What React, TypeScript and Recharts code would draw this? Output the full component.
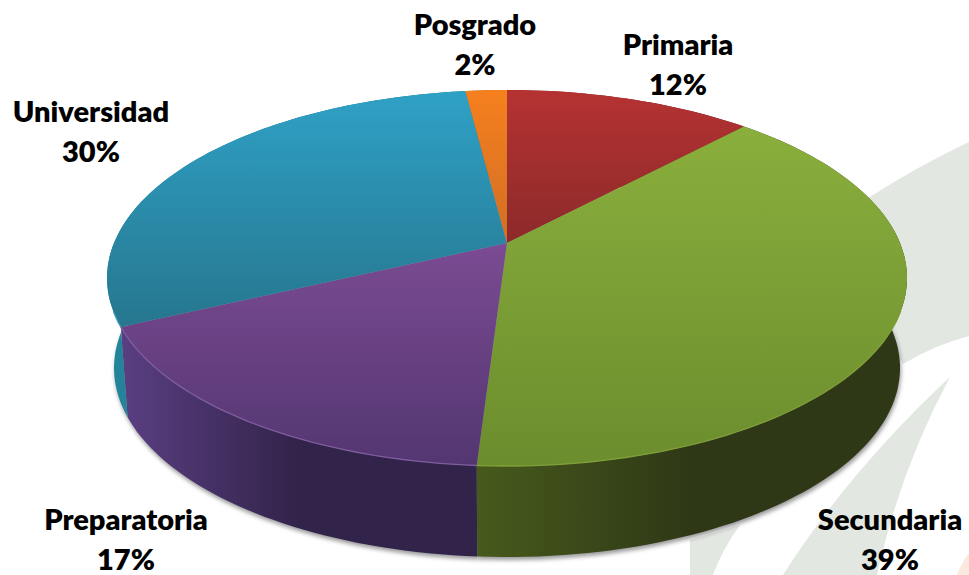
import { PieChart, Pie } from 'recharts'

const levels = ['Primaria', 'Secundaria', 'Preparatoria', 'Universidad', 'Posgrado']
const shares = [12, 39, 17, 30, 2]

const data = levels.map((name, i) => ({ name, value: shares[i] }))

const WIDTH = 969
const HEIGHT = 575
const FONT = 'Lato, "Open Sans", sans-serif'

// top face and base are ellipses, the apex sits above the centre because of the perspective
const TOP = { cx: 507, cy: 278, rx: 400, ry: 188 }
const BASE = { cx: 507, cy: 368, rx: 393, ry: 189 }
const TILT = -0.186

const topColors: Record<string, [string, string]> = {
  Primaria: ['#b63232', '#8c2a2a'],
  Secundaria: ['#8aaf3c', '#6b8d2e'],
  Preparatoria: ['#7b4b93', '#533671'],
  Universidad: ['#2fa1c6', '#26768e'],
  Posgrado: ['#f6801e', '#d26e24'],
}
const wallColors: Record<string, [string, string]> = {
  Primaria: ['#6e2020', '#6e2020'],
  Secundaria: ['#475a1c', '#2e3816'],
  Preparatoria: ['#5a3f82', '#32234a'],
  Universidad: ['#23859c', '#1b7288'],
  Posgrado: ['#a85a18', '#a85a18'],
}
const rimColors: Record<string, string> = {
  Primaria: '#c05050',
  Secundaria: '#7f9f38',
  Preparatoria: '#7f5c9e',
  Universidad: '#3a9fbc',
  Posgrado: '#f09040',
}

// x centre and baseline of the first line
const labelSpots: Record<string, [number, number]> = {
  Primaria: [678, 55],
  Secundaria: [890, 530],
  Preparatoria: [126, 530],
  Universidad: [91, 122],
  Posgrado: [475, 35],
}

type Ellipse = typeof TOP

function project(angle: number, e: Ellipse): [number, number] {
  const rad = (angle * Math.PI) / 180
  const u = Math.cos(rad)
  const v = -Math.sin(rad)
  const d = 1 + TILT * v
  const k = Math.sqrt(1 - TILT * TILT)
  return [e.cx + (e.rx * u * k) / d, e.cy + (e.ry * (v + TILT)) / d]
}

function rim(start: number, end: number, e: Ellipse) {
  const pts: [number, number][] = []
  const steps = Math.max(6, Math.ceil(Math.abs(end - start) / 1.5))
  for (let i = 0; i <= steps; i++) {
    pts.push(project(start + ((end - start) * i) / steps, e))
  }
  return pts
}

const toPath = (pts: [number, number][]) =>
  pts.map((p, i) => `${i ? 'L' : 'M'}${p[0].toFixed(1)},${p[1].toFixed(1)}`).join(' ')

function ShadowSlice(props: any) {
  const pts = rim(props.startAngle, props.endAngle, BASE).map(
    (p) => [p[0] + 1, p[1] + 3] as [number, number],
  )
  return (
    <path
      d={`${toPath(pts)} L${BASE.cx},${BASE.cy} Z`}
      fill="#77777a"
      fillOpacity={0.75}
      style={{ filter: 'blur(2px)' }}
    />
  )
}

function WallSlice(props: any) {
  const top = rim(props.startAngle, props.endAngle, TOP)
  const base = rim(props.startAngle, props.endAngle, BASE).reverse()
  return <path d={`${toPath([...top, ...base])} Z`} fill={`url(#wall-${props.index})`} />
}

function TopSlice(props: any) {
  const arc = rim(props.startAngle, props.endAngle, TOP)
  // where the disc's centre lands
  const apex: [number, number] = [TOP.cx, TOP.cy + TOP.ry * TILT]
  const front = arc.filter((p) => p[1] > TOP.cy + 30)
  return (
    <g>
      <path d={`${toPath([apex, ...arc])} Z`} fill={`url(#top-${props.index})`} />
      {front.length > 1 && (
        <path d={toPath(front)} fill="none" stroke={rimColors[props.name]} strokeWidth={1.3} />
      )}
    </g>
  )
}

function SliceLabel(props: any) {
  const [x, y] = labelSpots[props.name]
  return (
    <text
      x={x}
      textAnchor="middle"
      fontFamily={FONT}
      fontWeight={800}
      fontSize={29}
      fill="#000"
    >
      <tspan x={x} y={y}>{props.name}</tspan>
      <tspan x={x} y={y + 40}>{`${props.value}%`}</tspan>
    </text>
  )
}

export default function App() {
  return (
    <div style={{ position: 'absolute', left: 0, top: 0, width: WIDTH, height: HEIGHT, background: '#fff' }}>
      <svg width={WIDTH} height={HEIGHT} style={{ position: 'absolute', left: 0, top: 0 }}>
        <path d="M868,198 Q920,165 969,142 L969,336 Q935,345 903,364 L860,300 Z" fill="#e2e7e1" />
        <path d="M783,575 Q850,470 950,377 Q900,470 877,575 Z" fill="#e2e7e1" />
        <path d="M690,575 L713,575 Q722,550 740,525 L690,540 Z" fill="#e2e7e1" />
        <path d="M957,575 Q962,562 969,553 L969,575 Z" fill="#fbe9dd" />
      </svg>
      <div style={{ position: 'absolute', left: 0, top: 0 }}>
        <PieChart width={WIDTH} height={HEIGHT} margin={{ top: 0, right: 0, bottom: 0, left: 0 }}>
          <defs>
            {levels.map((name, i) => (
              <linearGradient key={name} id={`top-${i}`} x1="0" y1="0" x2="0" y2="1">
                <stop offset="0" stopColor={topColors[name][0]} />
                <stop offset="1" stopColor={topColors[name][1]} />
              </linearGradient>
            ))}
            {levels.map((name, i) => (
              <linearGradient key={name} id={`wall-${i}`} x1="0" y1="0" x2="1" y2="0">
                <stop offset="0" stopColor={wallColors[name][0]} />
                <stop offset="0.5" stopColor={wallColors[name][1]} />
                <stop offset="1" stopColor={wallColors[name][1]} />
              </linearGradient>
            ))}
          </defs>
          <Pie
            data={data}
            dataKey="value"
            nameKey="name"
            cx={TOP.cx}
            cy={TOP.cy}
            outerRadius={TOP.rx}
            startAngle={90}
            endAngle={-270}
            stroke="none"
            shape={ShadowSlice}
            isAnimationActive={false}
          />
          <Pie
            data={data}
            dataKey="value"
            nameKey="name"
            cx={TOP.cx}
            cy={TOP.cy}
            outerRadius={TOP.rx}
            startAngle={90}
            endAngle={-270}
            stroke="none"
            shape={WallSlice}
            isAnimationActive={false}
          />
          <Pie
            data={data}
            dataKey="value"
            nameKey="name"
            cx={TOP.cx}
            cy={TOP.cy}
            outerRadius={TOP.rx}
            startAngle={90}
            endAngle={-270}
            stroke="none"
            shape={TopSlice}
            label={SliceLabel}
            labelLine={false}
            isAnimationActive={false}
          />
        </PieChart>
      </div>
    </div>
  )
}
